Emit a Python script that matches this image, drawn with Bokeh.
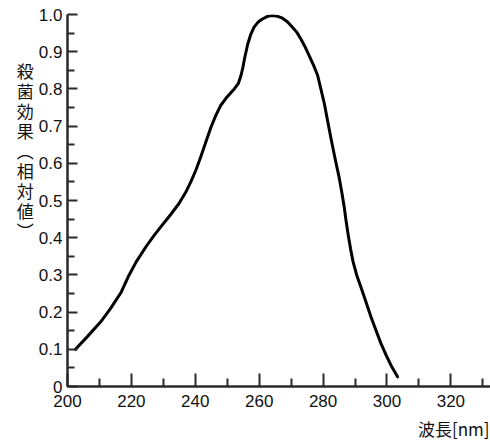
from bokeh.plotting import figure
from bokeh.models import FixedTicker, Label, Range1d
from bokeh.embed import file_html
from bokeh.resources import INLINE

# wavelength [nm] and relative germicidal effect
wavelength = [202.5, 206.0, 210.4, 213.5, 216.7, 219.0, 221.5, 224.5, 227.0,
              229.2, 232.0, 234.9, 237.0, 238.6, 240.2, 241.7, 243.3, 244.9,
              246.5, 248.0, 250.0, 252.2, 253.5, 254.3, 254.9, 255.5, 256.4,
              257.3, 258.4, 259.6, 261.0, 262.6, 264.2, 265.8, 267.3, 268.9,
              270.4, 271.8, 273.0, 274.3, 275.6, 277.0, 278.3, 279.3, 280.4,
              282.4, 283.7, 285.0, 285.8, 286.6, 287.2, 287.9, 288.6, 289.4,
              290.5, 291.8, 293.4, 295.0, 296.6, 298.1, 299.8, 301.5, 303.3]
effect = [0.100, 0.132, 0.174, 0.210, 0.252, 0.295, 0.335, 0.375, 0.405,
          0.429, 0.459, 0.492, 0.522, 0.550, 0.582, 0.617, 0.657, 0.697,
          0.730, 0.756, 0.779, 0.800, 0.815, 0.836, 0.858, 0.885, 0.920,
          0.945, 0.966, 0.979, 0.988, 0.995, 0.997, 0.995, 0.990, 0.980,
          0.966, 0.952, 0.935, 0.914, 0.890, 0.864, 0.836, 0.800, 0.760,
          0.670, 0.615, 0.563, 0.525, 0.483, 0.445, 0.405, 0.370, 0.335,
          0.300, 0.268, 0.228, 0.187, 0.150, 0.116, 0.083, 0.053, 0.026]

x_major = [200, 220, 240, 260, 280, 300, 320]
x_minor = [210, 230, 250, 270, 290, 310, 330]
y_major = [0, 0.1, 0.2, 0.3, 0.4, 0.5, 0.6, 0.7, 0.8, 0.9, 1.0]
y_minor = [0.05, 0.15, 0.25, 0.35, 0.45, 0.55, 0.65, 0.75, 0.85, 0.95]
y_labels = {0: "0", 0.1: "0.1", 0.2: "0.2", 0.3: "0.3", 0.4: "0.4", 0.5: "0.5",
            0.6: "0.6", 0.7: "0.7", 0.8: "0.8", 0.9: "0.9", 1.0: "1.0"}
y_title = "殺菌効果︵相対値︶"
x_title = "波長[nm]"

W, H = 490, 445
p = figure(width=W, height=H, output_backend="svg", toolbar_location=None,
           x_range=Range1d(200, 332.4), y_range=Range1d(0, 1.0),
           min_border_left=67, min_border_right=0, min_border_top=14,
           min_border_bottom=59, background_fill_color="white",
           border_fill_color="white", outline_line_color=None)
p.grid.visible = False

for ax in (p.xaxis[0], p.yaxis[0]):
    ax.axis_line_width = 2.5
    ax.axis_line_color = "#2a2a2a"
    ax.major_tick_line_color = "#2a2a2a"
    ax.minor_tick_line_color = "#2a2a2a"
    ax.major_tick_line_width = 2
    ax.minor_tick_line_width = 2
    ax.major_tick_out = 0
    ax.minor_tick_out = 0
    ax.major_label_text_font = "Liberation Sans"
    ax.major_label_text_font_size = "17px"
    ax.major_label_text_color = "#111111"
    ax.axis_label_text_font = "Noto Sans CJK JP"
    ax.axis_label_text_font_size = "17px"
    ax.axis_label_text_font_style = "normal"
    ax.axis_label_text_color = "#111111"

p.xaxis.ticker = FixedTicker(ticks=x_major, minor_ticks=x_minor)
p.xaxis.major_tick_in = 13
p.xaxis.minor_tick_in = 8
p.xaxis.major_label_standoff = 8

p.yaxis.ticker = FixedTicker(ticks=y_major, minor_ticks=y_minor)
p.yaxis.major_label_overrides = y_labels
p.yaxis.major_tick_in = 10
p.yaxis.minor_tick_in = 7
p.yaxis.major_label_standoff = 5

p.line(wavelength, effect, line_color="black", line_width=3,
       line_join="round", line_cap="round")

xa, ya = p.xaxis[0], p.yaxis[0]
props = ya.properties()
if "axis_label_orientation" in props:
    ya.axis_label = "\n".join(list(y_title)) + "\n" * 5
    ya.axis_label_orientation = "horizontal"
    ya.axis_label_text_line_height = 0.8
    ya.axis_label_standoff = 2
    # centred label, pushed to the right end with non-collapsing spaces
    xa.axis_label = "\u3000" * 20 + "\u2007" + x_title
    xa.axis_label_standoff = 6
else:
    p.add_layout(Label(x=200, y=1.0, x_offset=-44, y_offset=-44,
                       text="\n".join(list(y_title)), text_align="center",
                       text_baseline="top", text_font="Noto Sans CJK JP",
                       text_font_size="17px", text_line_height=0.79,
                       text_color="#111111"))
    p.add_layout(Label(x=332.4, y=0, x_offset=0, y_offset=-50,
                       text=x_title, text_align="right",
                       text_baseline="bottom", text_font="Noto Sans CJK JP",
                       text_font_size="17px", text_color="#111111"))

open("out.html", "w").write(file_html(p, INLINE))
